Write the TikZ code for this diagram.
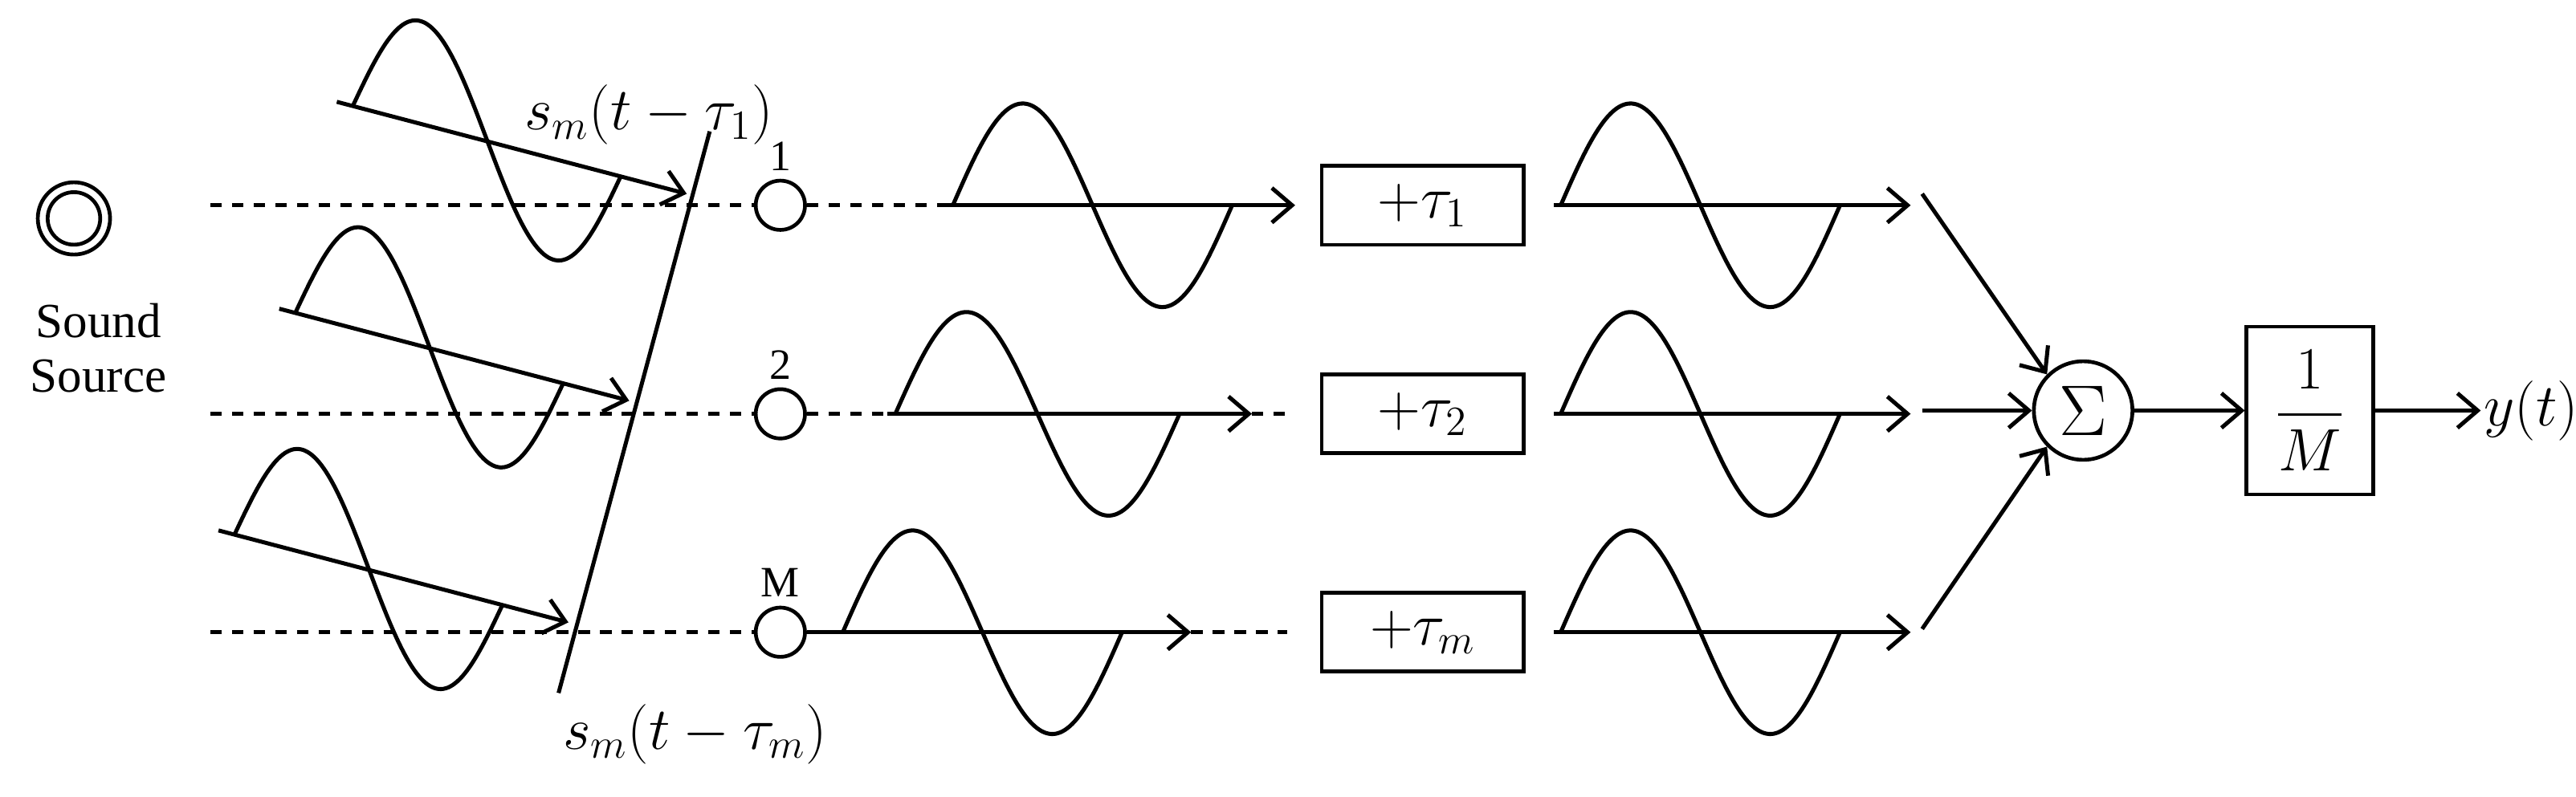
\documentclass[tikz,border=0pt]{standalone}
\usepackage{amsmath}
\usepackage{fontspec}
\setmainfont{Liberation Serif}
\usetikzlibrary{arrows.meta}
% skewed sine along an axis: (x1,y1) to (x2,y2), amplitude
\newcommand{\swave}[5]{%
  \draw[wave] plot[domain=0:1,samples=60,smooth]
    ({(#1)+\x*((#3)-(#1))},{(#2)+\x*((#4)-(#2))-(#5)*sin(360*\x)});}
\def\tikzunit{*0.02cm}
\tikzset{
  wave/.style={line width=1.4pt},
  sig/.style={line width=1.4pt,-{Straight Barb[length=7pt,width=12pt,line width=1.4pt]}},
  dots/.style={line width=1.3pt,dash pattern=on 4pt off 3.5pt},
  mic/.style={circle,draw,line width=1.3pt,minimum size=30\tikzunit,inner sep=0pt},
  delay/.style={draw,line width=1.3pt,minimum width=123\tikzunit,minimum height=48\tikzunit,font=\fontsize{20}{22}\selectfont},
  lbl/.style={font=\fontsize{20}{22}\selectfont,inner sep=1pt}
}
\begin{document}
\begin{tikzpicture}[x=0.02cm,y=-0.02cm]
\useasboundingbox (0,0) rectangle (1568,485);
% source
\draw[line width=1.3pt] (45,133) circle (22) (45,133) circle (16);
\node[align=center,font=\fontsize{17}{19}\selectfont] (src) at (60,212) {Sound\\Source};
% incoming wavefronts
\foreach \dx/\dy [count=\i] in {0/0,-35/126,-72/261}{
  \coordinate (a\i) at (205+\dx,62+\dy);
  \coordinate (b\i) at (418+\dx,118+\dy);
  \draw[sig] (a\i) -- (b\i);
  \swave{215+\dx}{64+\dy}{378+\dx}{107+\dy}{62}
}
\coordinate (fronttop) at (432,80);
\coordinate (frontbot) at (340,422);
\draw[line width=1.4pt] (fronttop) -- (frontbot);
\node[lbl] (lt) at (395,70) {$s_m(t-\tau_1)$};
\node[lbl] (lb) at (423,447) {$s_m(t-\tau_m)$};
% microphones, dotted paths and delays
\foreach \y/\lab/\tn [count=\i] in {125/1/1,252/2/2,385/M/m}{
  \node[mic] (m\i) at (475,\y) {};
  \node[font=\fontsize{15}{17}\selectfont] (n\i) at (475,\y-30) {\lab};
  \coordinate (s\i) at (128,\y);
  \draw[dots] (s\i) -- (m\i.west);
  \node[delay] (d\i) at (866,\y) {$+\tau_{\tn}$};
  \coordinate (o\i) at (946,\y);
  \coordinate (e\i) at (1163,\y);
  \draw[sig] (o\i) -- (e\i);
  \swave{950}{\y}{1120}{\y}{62}
}
% row 1
\coordinate (p1) at (575,125);
\draw[dots] (m1.east) -- (p1);
\draw[sig] (p1) -- ([xshift=-15\tikzunit]d1.west);
\swave{580}{125}{750}{125}{62}
% row 2
\coordinate (p2) at (540,252);
\coordinate (q2) at (762,252);
\draw[dots] (m2.east) -- (p2);
\draw[sig] (p2) -- (q2);
\draw[dots] (q2) -- ([xshift=-20\tikzunit]d2.west);
\swave{545}{252}{718}{252}{62}
% row 3
\coordinate (q3) at (725,385);
\draw[sig] (m3.east) -- (q3);
\draw[dots] (q3) -- ([xshift=-20\tikzunit]d3.west);
\swave{513}{385}{683}{385}{62}
% summation and normalisation
\node[circle,draw,line width=1.3pt,minimum size=60\tikzunit,inner sep=0pt,font=\fontsize{30}{32}\selectfont] (sum) at (1268,250) {$\Sigma$};
\node[draw,line width=1.3pt,minimum width=77\tikzunit,minimum height=102\tikzunit,font=\fontsize{20}{22}\selectfont] (norm) at (1406,250) {$\dfrac{1}{M}$};
\node[lbl,anchor=west] (out) at (1510,250) {$y(t)$};
\coordinate (c1) at (1170,118);
\coordinate (c2) at (1170,250);
\coordinate (c3) at (1170,383);
\draw[sig] (c1) -- (sum.north west);
\draw[sig] (c2) -- (sum.west);
\draw[sig] (c3) -- (sum.south west);
\draw[sig] (sum) -- (norm);
\draw[sig] (norm) -- (out);
\end{tikzpicture}
\end{document}
